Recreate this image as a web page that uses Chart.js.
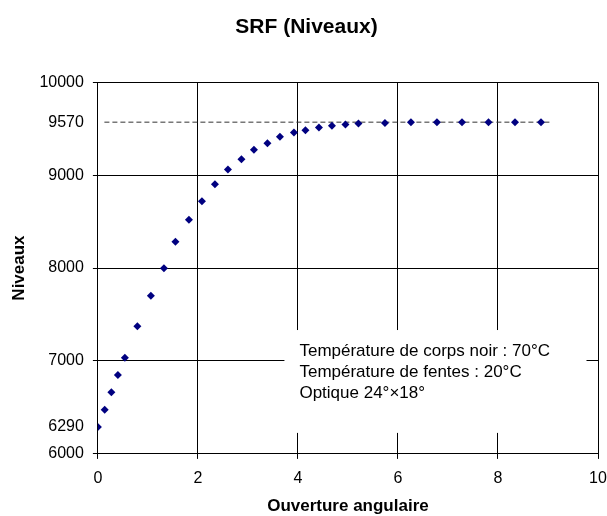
<!DOCTYPE html>
<html>
<head>
<meta charset="utf-8">
<script src="https://cdn.jsdelivr.net/npm/chart.js@4/dist/chart.umd.min.js"></script>
<style>
  html, body { margin: 0; padding: 0; background: #fff; }
  #wrap { width: 607px; height: 516px; }
</style>
</head>
<body>
<div id="wrap"><canvas id="myChart"></canvas></div>
<script>
// Values
var ouverture = [0, 0.136, 0.27, 0.40, 0.54, 0.79, 1.06, 1.32, 1.55, 1.82, 2.08, 2.34, 2.60, 2.87,
                 3.12, 3.39, 3.64, 3.92, 4.15, 4.42, 4.68, 4.95, 5.21, 5.74, 6.26, 6.78, 7.28, 7.81, 8.34, 8.86];
var niveaux = [6290, 6476, 6663, 6849, 7035, 7373, 7702, 7997, 8283, 8519, 8720, 8903, 9061, 9172,
               9272, 9344, 9412, 9459, 9484, 9513, 9530, 9545, 9556, 9560, 9568, 9570, 9570, 9570, 9570, 9570];
var plateauX = [0.13, 9.05];
var plateauY = [9570, 9570];
var yTicks = [6000, 6290, 7000, 8000, 9000, 9570, 10000];
var noteLines = ['Température de corps noir : 70°C', 'Température de fentes : 20°C', 'Optique 24°×18°'];

var font = "Arial, 'Liberation Sans', sans-serif";

var points = ouverture.map(function (x, i) { return {x: x, y: niveaux[i]}; });
var plateau = plateauX.map(function (x, i) { return {x: x, y: plateauY[i]}; });

// white box with the measurement conditions, placed in data units
var notePlugin = {
    id: 'note',
    beforeDatasetsDraw: function (chart) {
        var ctx = chart.ctx;
        var xs = chart.scales.x, ys = chart.scales.y;
        var left = xs.getPixelForValue(3.73), right = xs.getPixelForValue(9.77);
        var top = ys.getPixelForValue(7333), bottom = ys.getPixelForValue(6226);
        ctx.save();
        ctx.fillStyle = '#fff';
        ctx.fillRect(left, top, right - left, bottom - top);
        ctx.fillStyle = '#000';
        ctx.font = '17px ' + font;
        ctx.textBaseline = 'middle';
        var tx = xs.getPixelForValue(4.03);
        for (var i = 0; i < noteLines.length; i++) {
            ctx.fillText(noteLines[i], tx, top + 21 + i * 21.3);
        }
        ctx.restore();
    }
};

function hidden(v) { return v === 6290 || v === 9570; }

var ctx = document.getElementById('myChart').getContext('2d');
new Chart(ctx, {
    type: 'scatter',
    data: {
        datasets: [
            {
                label: 'Niveaux',
                data: points,
                pointStyle: 'rectRot',
                pointRadius: 4,
                pointHoverRadius: 4,
                backgroundColor: '#000080',
                borderColor: '#000080',
                borderWidth: 0
            },
            {
                label: 'Plateau',
                data: plateau,
                showLine: true,
                pointRadius: 0,
                borderColor: '#333',
                borderWidth: 1,
                borderDash: [5, 3]
            }
        ]
    },
    options: {
        responsive: true,
        maintainAspectRatio: false,
        animation: false,
        // negative right padding only nudges the title centre; plot edge comes from the x scale
        layout: { padding: { left: 0, right: -6, top: 0, bottom: -1 } },
        plugins: {
            legend: { display: false },
            tooltip: { enabled: false },
            title: {
                display: true,
                text: 'SRF (Niveaux)',
                color: '#000',
                font: { family: font, size: 21, weight: 'bold' },
                padding: { top: 15, bottom: 42 }
            }
        },
        scales: {
            x: {
                type: 'linear',
                min: 0,
                max: 10,
                afterFit: function (scale) {
                    // let the "10" label hang past the plot edge like the original
                    scale.paddingRight = 9;
                },
                ticks: { stepSize: 2, color: '#000', font: { family: font, size: 16 }, padding: 10, maxRotation: 0 },
                grid: { color: '#000', lineWidth: 1, tickLength: 5, tickColor: '#000' },
                border: { color: '#000', width: 1 },
                title: {
                    display: true,
                    text: 'Ouverture angulaire',
                    color: '#000',
                    font: { family: font, size: 17, weight: 'bold' },
                    padding: { top: -1.5, bottom: 0 }
                }
            },
            y: {
                type: 'linear',
                min: 6000,
                max: 10000,
                afterBuildTicks: function (axis) {
                    axis.ticks = yTicks.map(function (v) { return {value: v}; });
                },
                ticks: {
                    color: '#000',
                    font: { family: font, size: 16 },
                    padding: 9,
                    callback: function (v) { return String(v); }
                },
                grid: {
                    lineWidth: 1,
                    tickLength: 5,
                    color: function (c) { return c.tick && hidden(c.tick.value) ? 'rgba(0,0,0,0)' : '#000'; },
                    tickColor: function (c) { return c.tick && hidden(c.tick.value) ? 'rgba(0,0,0,0)' : '#000'; }
                },
                border: { color: '#000', width: 1 },
                title: {
                    display: true,
                    text: 'Niveaux',
                    color: '#000',
                    font: { family: font, size: 17, weight: 'bold' },
                    padding: { top: 9, bottom: 1 }
                }
            }
        }
    },
    plugins: [notePlugin]
});
</script>
</body>
</html>
